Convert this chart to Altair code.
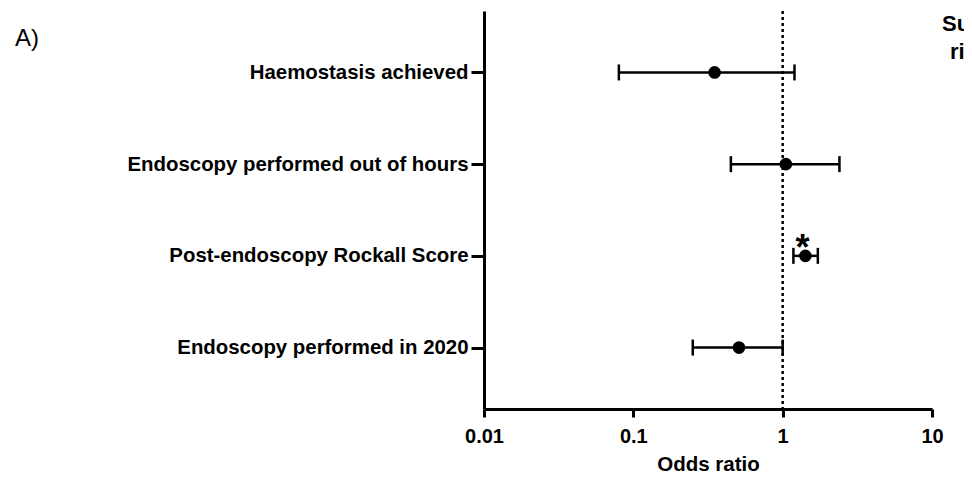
import altair as alt
import pandas as pd

labels = ["Haemostasis achieved", "Endoscopy performed out of hours",
          "Post-endoscopy Rockall Score", "Endoscopy performed in 2020"]
odds = [0.35, 1.05, 1.42, 0.51]
lower = [0.080, 0.45, 1.18, 0.25]
upper = [1.20, 2.40, 1.72, 1.00]
star = ["", "", "*", ""]
ref_value = [1]

df = pd.DataFrame({"label": labels, "odds": odds, "lower": lower,
                   "upper": upper, "star": star})
refdf = pd.DataFrame({"ref": ref_value})

FONT = "Liberation Sans"
W, H = 448, 398

xscale = alt.Scale(type="log", domain=[0.01, 10], nice=False)
yscale = alt.Scale(type="point", domain=labels, padding=0.67)

xaxis = alt.Axis(values=[0.01, 0.1, 1, 10], labelExpr="datum.value == 0.01 ? '0.01' : datum.value == 0.1 ? '0.1' : format(datum.value, 'd')",
                 grid=False, domainColor="black", domainWidth=3, tickColor="black",
                 tickWidth=3, tickSize=8, labelFont=FONT, labelFontWeight="bold",
                 labelFontSize=20, labelColor="black", labelPadding=9,
                 title="Odds ratio", titleFont=FONT, titleFontWeight="bold",
                 titleFontSize=20.5, titleColor="black", titleY=61,
                 titleBaseline="alphabetic", labelFlush=False, labelOverlap=False)
yaxis = alt.Axis(grid=False, domainColor="black", domainWidth=3, tickColor="black",
                 tickWidth=3, tickSize=13, labelFont=FONT, labelFontWeight="bold",
                 labelFontSize=20.4, labelColor="black", labelPadding=3, title=None,
                 labelLimit=500)

base = alt.Chart(df)
ann = alt.Chart(refdf)

bars = base.mark_rule(color="black", strokeWidth=2.5).encode(
    x=alt.X("lower:Q", scale=xscale, axis=xaxis),
    x2="upper:Q",
    y=alt.Y("label:N", scale=yscale, axis=yaxis, sort=labels))

ref = ann.mark_rule(color="black", strokeWidth=2.5, strokeDash=[3, 3]).encode(
    x=alt.X("ref:Q", scale=xscale))

cap_lo = base.mark_tick(color="black", thickness=2.5, size=16, opacity=1).encode(
    x=alt.X("lower:Q", scale=xscale), y=alt.Y("label:N", scale=yscale, sort=labels))
cap_hi = base.mark_tick(color="black", thickness=2.5, size=16, opacity=1).encode(
    x=alt.X("upper:Q", scale=xscale), y=alt.Y("label:N", scale=yscale, sort=labels))

pts = base.mark_point(filled=True, color="black", size=160, opacity=1).encode(
    x=alt.X("odds:Q", scale=xscale), y=alt.Y("label:N", scale=yscale, sort=labels))

stars = base.mark_text(font=FONT, fontWeight="bold", fontSize=36, color="black",
                       baseline="alphabetic", dy=4, dx=-3).encode(
    x=alt.X("odds:Q", scale=xscale), y=alt.Y("label:N", scale=yscale, sort=labels),
    text="star:N")

panel = ann.mark_text(font=FONT, fontSize=24, fontWeight="normal", color="black",
                      align="left", baseline="alphabetic").encode(
    x=alt.value(-469), y=alt.value(35), text=alt.value("A)"))

side1 = ann.mark_text(font=FONT, fontWeight="bold", fontSize=22, color="black",
                      align="left", baseline="alphabetic").encode(
    x=alt.value(458), y=alt.value(20), text=alt.value("Subsequent"))
side2 = ann.mark_text(font=FONT, fontWeight="bold", fontSize=22, color="black",
                      align="left", baseline="alphabetic").encode(
    x=alt.value(466), y=alt.value(48), text=alt.value("risk"))

chart = alt.layer(bars, ref, cap_lo, cap_hi, pts, stars, panel, side1, side2).properties(
    width=W, height=H,
    autosize=alt.AutoSizeParams(type="none"),
    padding={"left": 476, "top": 3, "right": 32, "bottom": 64},
    view=alt.ViewBackground(stroke="transparent", strokeWidth=0),
).configure_view(stroke="transparent", strokeWidth=0).configure_axis(
    grid=False).configure(background="white")

chart.save("out.html", embed_options={"renderer": "svg", "actions": False})
